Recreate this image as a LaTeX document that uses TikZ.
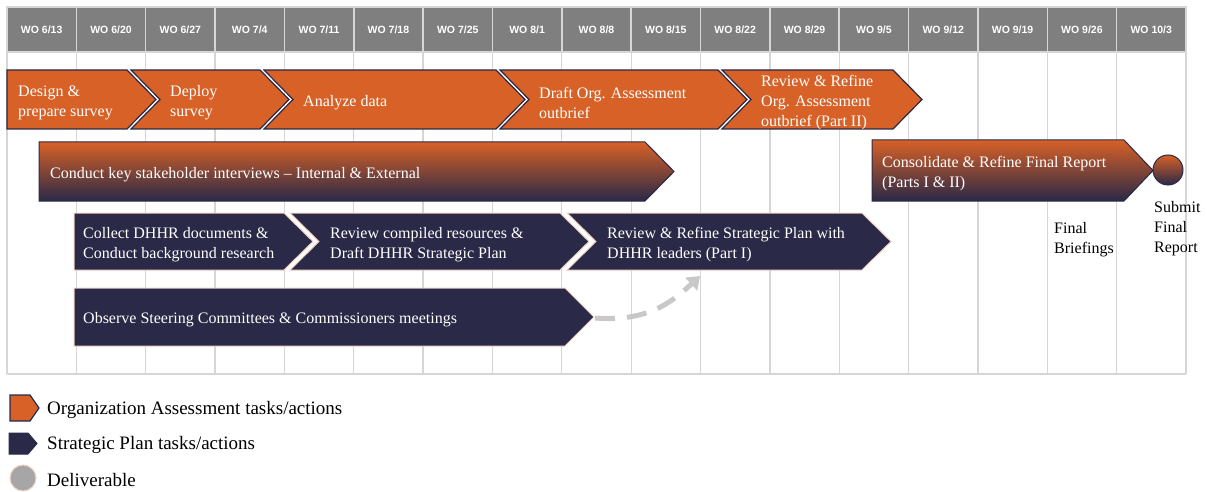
\documentclass[tikz,border=0pt]{standalone}
\usepackage{fontspec}
\setmainfont{Liberation Serif}
\newfontfamily\headfont{Liberation Sans}
\usetikzlibrary{arrows.meta}

\definecolor{orgorange}{HTML}{D76127}
\definecolor{spnavy}{HTML}{2A2947}
\definecolor{headgray}{HTML}{7F7F7F}
\definecolor{gridgray}{HTML}{D6D6D6}
\definecolor{peach}{HTML}{F2D3C2}
\definecolor{delgray}{HTML}{A6A6A6}
\definecolor{dashgray}{HTML}{C8C8C8}

% style, left, right (top corner), top, bottom, notch depth
\newcommand{\taskbar}[6]{%
  \path[#1] (#2,#4) -- (#3,#4) -- ({#3+29},{(#4+#5)/2}) -- (#3,#5) -- (#2,#5)
    -- ({#2+#6},{(#4+#5)/2}) -- cycle;}

\begin{document}
\begin{tikzpicture}[x=1pt, y=-1pt,
	header/.style={fill=headgray, draw=gridgray, line width=1.5pt, minimum width=69.35,
		minimum height=45, inner sep=0, text=white, font=\headfont\bfseries\fontsize{10.5}{12}\selectfont},
	gridline/.style={draw=gridgray, line width=1.3pt},
	orgbar/.style={fill=orgorange, draw=spnavy, line width=1.2pt},
	spbar/.style={fill=spnavy, draw=peach, line width=1pt},
	mixbar/.style={top color=orgorange, bottom color=spnavy, draw=spnavy, line width=1pt},
	tasktext/.style={anchor=west, inner sep=0, yshift=-3pt, align=left, text=white, font=\fontsize{16}{20}\selectfont},
	note/.style={anchor=west, inner sep=0, yshift=-3pt, align=left, font=\fontsize{16}{20}\selectfont},
	legendtext/.style={anchor=west, inner sep=0, yshift=-2pt, font=\fontsize{19}{22}\selectfont},
]
\useasboundingbox (0,0) rectangle (1207,492);

% week grid
\foreach \i in {0,...,17}
	\draw[gridline] ({7+69.35*\i},52) -- ({7+69.35*\i},374);
\draw[gridline] (7,374) -- (1186,374);
\foreach \lbl [count=\i] in {6/13,6/20,6/27,7/4,7/11,7/18,7/25,8/1,8/8,8/15,8/22,8/29,9/5,9/12,9/19,9/26,10/3}
	\node[header] (wo\i) at ({7+69.35*(\i-0.5)},29.5) {WO \lbl};

% organization assessment
\taskbar{orgbar}{7}{127}{70}{129}{0}
\taskbar{orgbar}{131}{260}{70}{129}{29}
\taskbar{orgbar}{264}{496}{70}{129}{29}
\taskbar{orgbar}{500}{718}{70}{129}{29}
\taskbar{orgbar}{722}{893}{70}{129}{29}
\node[tasktext] (design) at (18,100) {Design \&\\prepare survey};
\node[tasktext] (deploy) at (170,100) {Deploy\\survey};
\node[tasktext] (analyze) at (303,100) {Analyze data};
\node[tasktext] (draft) at (539,100) {Draft Org. Assessment\\outbrief};
\node[tasktext] (revorg) at (761,100) {Review \& Refine\\Org. Assessment\\outbrief (Part II)};

% shared
\taskbar{mixbar}{39}{645}{142}{201}{0}
\node[tasktext] (conduct) at (50,172) {Conduct key stakeholder interviews -- Internal \& External};
\taskbar{mixbar}{872}{1124}{140}{201}{0}
\node[tasktext] (consolidate) at (882,171) {Consolidate \& Refine Final Report\\(Parts I \& II)};
\node[circle, mixbar, minimum size=30, inner sep=0] (deliv) at (1168,170) {};

% strategic plan
\taskbar{spbar}{74}{284}{213}{270}{0}
\taskbar{spbar}{290}{560}{213}{270}{29}
\taskbar{spbar}{567}{862}{213}{270}{29}
\taskbar{spbar}{74}{565}{288}{346}{0}
\node[tasktext] (collect) at (83,242) {Collect DHHR documents \&\\Conduct background research};
\node[tasktext] (compiled) at (330,242) {Review compiled resources \&\\Draft DHHR Strategic Plan};
\node[tasktext] (refinesp) at (607,242) {Review \& Refine Strategic Plan with\\DHHR leaders (Part I)};
\node[tasktext] (observe) at (83,317) {Observe Steering Committees \& Commissioners meetings};

\coordinate (obstip) at (595,318);
\coordinate (refbase) at (700,276);
\draw[draw=dashgray, line width=5pt, dash pattern=on 20pt off 12pt,
	-{Triangle[width=17pt,length=12pt]}] (obstip) .. controls (648,322) and (672,302) .. (refbase);

\node[note] (briefings) at (1054,237) {Final\\Briefings};
\node[note] (submit) at (1154,226) {Submit\\Final\\Report};

% legend
\path[orgbar] (10,395) -- (30,395) -- (39,408) -- (30,421) -- (10,421) -- cycle;
\path[spbar, draw=spnavy] (9,433) -- (28,433) -- (37,443.5) -- (28,454) -- (9,454) -- cycle;
\node[circle, fill=delgray, draw=peach, line width=1pt, minimum size=26, inner sep=0] (legdeliv) at (23,478) {};
\node[legendtext] (legorg) at (47,408) {Organization Assessment tasks/actions};
\node[legendtext] (legsp) at (47,443) {Strategic Plan tasks/actions};
\node[legendtext] (legdel) at (47,478) {Deliverable};
\end{tikzpicture}
\end{document}
